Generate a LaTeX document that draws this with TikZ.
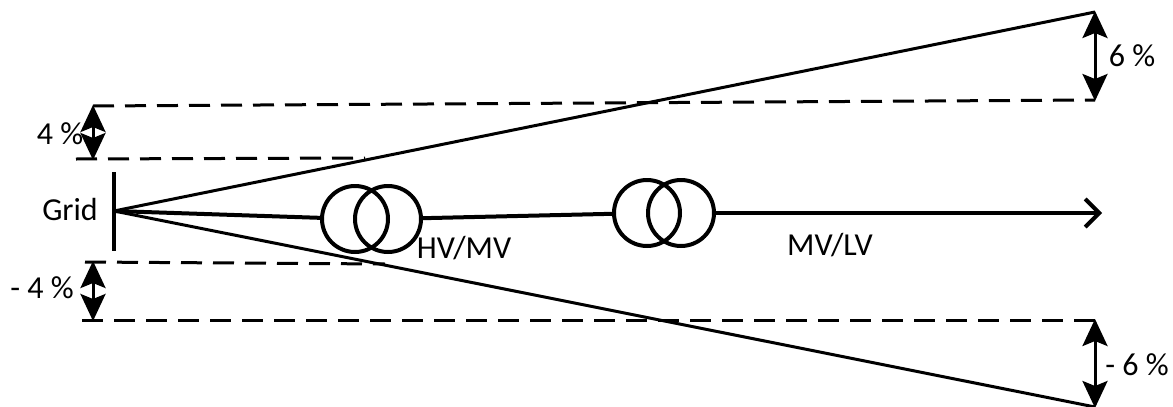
\documentclass[tikz,border=0pt]{standalone}
\usepackage{fontspec}
\setmainfont{Carlito}
\usetikzlibrary{arrows.meta}
\begin{document}
\begin{tikzpicture}[x=1pt, y=-1pt, line width=3pt, main/.style = {draw, circle, line width=4pt, minimum size=66pt, inner sep=0pt}, lim/.style = {dash pattern=on 21pt off 11pt}, feed/.style = {line width=4pt}, dim/.style = {{Stealth[length=27pt,width=25pt,inset=5pt]}-{Stealth[length=27pt,width=25pt,inset=5pt]}, line width=3pt, shorten >=-1pt, shorten <=-1pt}, lab/.style = {font=\fontsize{32}{34}\selectfont, inner sep=0pt}]
\useasboundingbox (0,0) rectangle (1173,407);
\coordinate (bustop) at (114,172);
\coordinate (busbot) at (114,251);
\coordinate (src) at (114,211);
\coordinate (up) at (1095,12);
\coordinate (down) at (1095,407);
\coordinate (uplim) at (1095,100);
\coordinate (downlim) at (1095,320);
\coordinate (a1) at (93,106);
\coordinate (a2) at (76,159);
\coordinate (a3) at (365,158);
\coordinate (b1) at (85,262);
\coordinate (b2) at (385,264);
\coordinate (b3) at (82,320);
\coordinate (a4) at (93,159);
\coordinate (b4) at (93,262);
\coordinate (b5) at (93,320);
\coordinate (tip) at (1102,213);
\node[main] (1) at (355,219) {};
\node[main] (2) at (388,219) {};
\node[main] (3) at (647,213) {};
\node[main] (4) at (681,213) {};
\draw[line width=4pt] (bustop) -- (busbot);
\draw (src) -- (up);
\draw (src) -- (down);
\draw[feed] (src) -- (1);
\draw[feed] (2) -- (3);
\draw[feed, -{Straight Barb[length=14pt,width=28pt]}] (4) -- (tip);
\draw[lim] (a1) -- (uplim);
\draw[lim] (a2) -- (a3);
\draw[lim] (b1) -- (b2);
\draw[lim] (b3) -- (downlim);
\draw[dim] (a1) -- (a4);
\draw[dim] (b4) -- (b5);
\draw[dim] (up) -- (uplim);
\draw[dim] (downlim) -- (down);
\node[lab] (grid) at (70,209) {Grid};
\node[lab] (hvmv) at (464,248) {HV/MV};
\node[lab] (mvlv) at (830,245) {MV/LV};
\node[lab] (p4) at (60,134) {4 \%};
\node[lab] (m4) at (42,288) {- 4 \%};
\node[lab] (p6) at (1132,56) {6 \%};
\node[lab] (m6) at (1137,365) {- 6 \%};
\end{tikzpicture}
\end{document}
